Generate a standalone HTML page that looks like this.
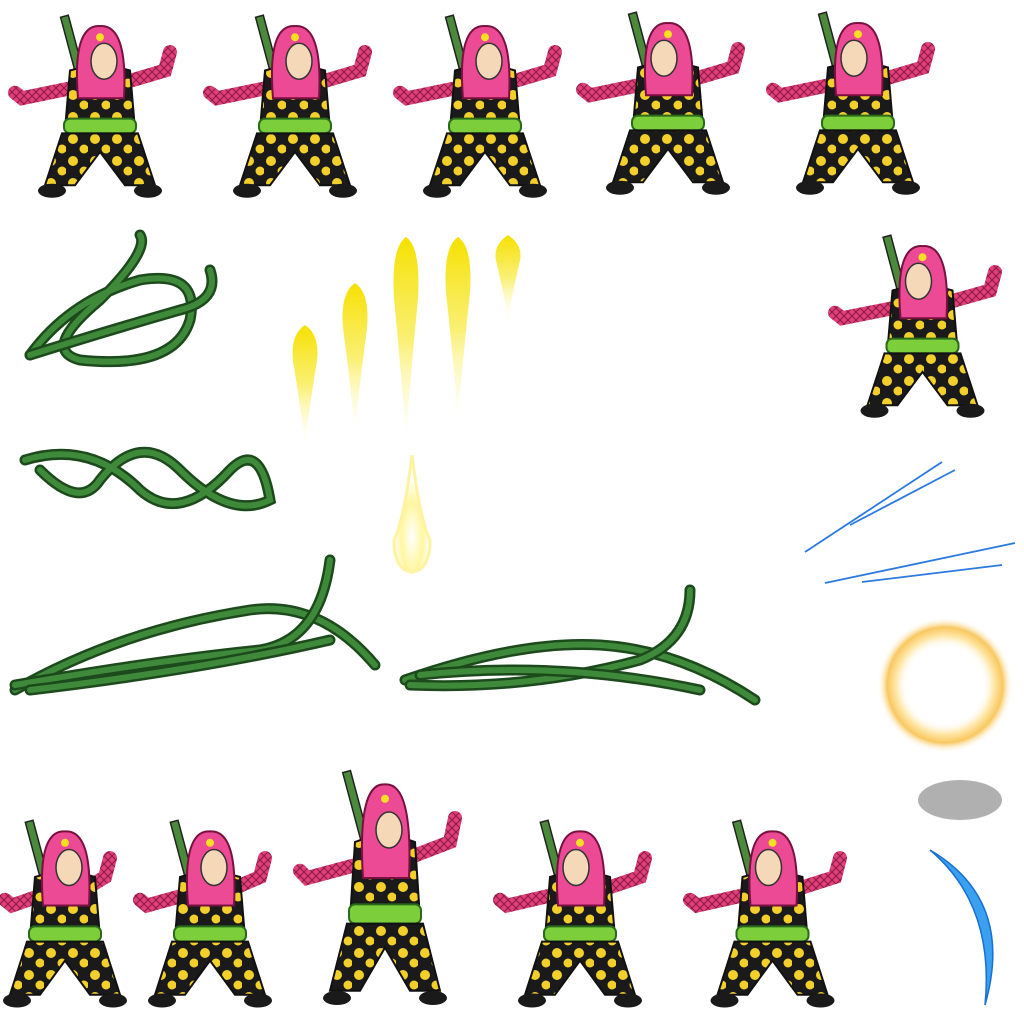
<!DOCTYPE html>
<html><head><meta charset="utf-8"><style>
html,body{margin:0;padding:0;background:#fff;width:1024px;height:1024px;overflow:hidden}
svg{display:block}
</style></head><body>
<svg id="sheet" width="1024" height="1024" viewBox="0 0 1024 1024" xmlns="http://www.w3.org/2000/svg">
<defs>
<linearGradient id="flame" x1="0" y1="0" x2="0" y2="1">
<stop offset="0" stop-color="#f6e000"/><stop offset="0.5" stop-color="#f8ec50" stop-opacity="0.8"/><stop offset="1" stop-color="#fff8c0" stop-opacity="0"/>
</linearGradient>
<radialGradient id="drop" cx="0.5" cy="0.7" r="0.5">
<stop offset="0" stop-color="#fff" /><stop offset="0.6" stop-color="#fff6a0"/><stop offset="1" stop-color="#fff6a0" stop-opacity="0"/>
</radialGradient>
<radialGradient id="ring" cx="0.5" cy="0.5" r="0.5">
<stop offset="0.55" stop-color="#fff" stop-opacity="0"/><stop offset="0.72" stop-color="#ffe7a8"/><stop offset="0.85" stop-color="#f8c860"/><stop offset="1" stop-color="#fff" stop-opacity="0"/>
</radialGradient>
<pattern id="spots" width="22" height="22" patternUnits="userSpaceOnUse">
<rect width="22" height="22" fill="#1a1a1a"/><circle cx="7" cy="7" r="5" fill="#f2cf2a"/><circle cx="18" cy="17" r="4.5" fill="#f2cf2a"/>
</pattern>
<pattern id="mesh" width="8" height="8" patternUnits="userSpaceOnUse">
<rect width="8" height="8" fill="#e0407a"/><path d="M0 0L8 8M8 0L0 8" stroke="#8a1840" stroke-width="1"/>
</pattern>
</defs>
<g id="chars"></g>
<g id="vines" fill="none" stroke-linecap="round"></g>
<g id="fx"></g>
</svg>
<script>
const NS="http://www.w3.org/2000/svg";
function mk(tag,attrs,parent){const e=document.createElementNS(NS,tag);for(const k in attrs)e.setAttribute(k,attrs[k]);parent.appendChild(e);return e;}
const chars=document.getElementById('chars');
// x,y = top-left of box, w,h, flip
const figs=[[10,15,180,185,0],[205,15,180,185,0],[395,15,180,185,0],[578,12,180,185,1],[768,12,180,185,1],[830,235,185,185,1],
[0,820,130,190,0],[135,820,150,190,0],[295,770,180,240,0],[495,820,170,190,1],[685,820,175,190,1]];
figs.forEach((f,i)=>{
 const [x,y,w,h,fl]=f;
 const g=mk('g',{},chars);
 
 
 const cx=x+w/2;
 // sword
 mk('rect',{x:cx-30,y:y,width:8,height:h*0.45,fill:'#4a8a3a',stroke:'#222','stroke-width':1.5,transform:`rotate(-15 ${cx-26} ${y+h*0.2})`},g);
 // arms
 mk('path',{d:`M${cx-15} ${y+h*0.38} L${x+12} ${y+h*0.45} L${x+5} ${y+h*0.42}`,stroke:'url(#mesh)','stroke-width':14,fill:'none','stroke-linecap':'round'},g);
 mk('path',{d:`M${cx+15} ${y+h*0.38} L${x+w-25} ${y+h*0.3} L${x+w-20} ${y+h*0.2}`,stroke:'url(#mesh)','stroke-width':14,fill:'none','stroke-linecap':'round'},g);
 // body
 mk('path',{d:`M${cx-30} ${y+h*0.3} Q${cx} ${y+h*0.25} ${cx+30} ${y+h*0.3} L${cx+35} ${y+h*0.62} L${cx-35} ${y+h*0.62}Z`,fill:'url(#spots)',stroke:'#111','stroke-width':2},g);
 // sash
 mk('rect',{x:cx-36,y:y+h*0.56,width:72,height:h*0.08,rx:6,fill:'#7ccf3a',stroke:'#2a6a1a','stroke-width':2},g);
 // legs
 mk('path',{d:`M${cx-38} ${y+h*0.64} L${cx+38} ${y+h*0.64} L${cx+55} ${y+h*0.92} L${cx+25} ${y+h*0.92} L${cx} ${y+h*0.74} L${cx-25} ${y+h*0.92} L${cx-55} ${y+h*0.92}Z`,fill:'url(#spots)',stroke:'#111','stroke-width':2},g);
 // shoes
 mk('ellipse',{cx:cx-48,cy:y+h*0.95,rx:14,ry:7,fill:'#1a1a1a'},g);
 mk('ellipse',{cx:cx+48,cy:y+h*0.95,rx:14,ry:7,fill:'#1a1a1a'},g);
 // hood/head
 mk('path',{d:`M${cx-22} ${y+h*0.45} Q${cx-28} ${y+h*0.05} ${cx} ${y+h*0.06} Q${cx+28} ${y+h*0.05} ${cx+24} ${y+h*0.45} Z`,fill:'#ec4a94',stroke:'#7a1040','stroke-width':2},g);
 mk('ellipse',{cx:cx+(fl?-4:4),cy:y+h*0.25,rx:13,ry:18,fill:'#f5d8b8',stroke:'#333','stroke-width':1.5},g);
 mk('circle',{cx:cx,cy:y+h*0.12,r:4,fill:'#f8e020'},g);
});
// vines
const vines=document.getElementById('vines');
const vinePaths=[
"M30 355 Q70 300 140 280 Q200 270 190 320 Q175 370 80 360 Q40 350 100 300 Q150 250 140 235",
"M30 355 Q110 330 180 310 Q220 300 210 270",
"M25 460 Q90 440 140 490 Q180 525 230 470 Q260 440 270 500 Q230 520 180 470 Q140 430 100 480 Q80 510 40 470",
"M15 690 Q120 630 250 610 Q320 600 375 665",
"M15 685 Q160 660 260 650 Q320 640 330 560",
"M30 690 Q200 670 330 640",
"M405 680 Q520 640 600 645 Q680 650 755 700",
"M410 685 Q530 690 640 660 Q690 640 690 590",
"M420 675 Q560 660 700 690"];
vinePaths.forEach((d,i)=>{
 const o=mk('path',{d:d,stroke:'#1d4a1c','stroke-width':11},vines);
 
 
 const p=mk('path',{d:d,stroke:'#3f8a3a','stroke-width':6},vines);
 
 
});
const fx=document.getElementById('fx');
// flames
[[305,325,120],[355,283,150],[406,237,205],[458,237,185],[508,235,85]].forEach((f,i)=>{
 const [x,y,h]=f;
 const e=mk('path',{d:`M${x} ${y} Q${x+15} ${y+10} ${x+12} ${y+h*0.3} Q${x+4} ${y+h*0.7} ${x} ${y+h} Q${x-4} ${y+h*0.7} ${x-12} ${y+h*0.3} Q${x-15} ${y+10} ${x} ${y}Z`,fill:'url(#flame)'},fx);
 
 
});
const dr=mk('path',{d:"M412 455 Q420 520 430 540 Q430 570 412 572 Q394 570 394 540 Q404 520 412 455Z",fill:'url(#drop)',stroke:'#fff2a0','stroke-width':3},fx);


// blue streaks
[[805,552,942,462],[850,525,955,470],[825,583,1015,543],[862,582,1002,565]].forEach((l,i)=>{
 const e=mk('line',{x1:l[0],y1:l[1],x2:l[2],y2:l[3],stroke:'#2a7ae0','stroke-width':1.8},fx);
 
 
});
const r=mk('circle',{cx:945,cy:685,r:68,fill:'url(#ring)'},fx);


const sh=mk('ellipse',{cx:960,cy:800,rx:42,ry:20,fill:'#b0b0b0'},fx);


const cr=mk('path',{d:"M930 850 Q1015 900 985 1005 Q995 905 930 850Z",fill:'#3aa0f0',stroke:'#1a70d0','stroke-width':1.5},fx);


</script>
</body></html>
